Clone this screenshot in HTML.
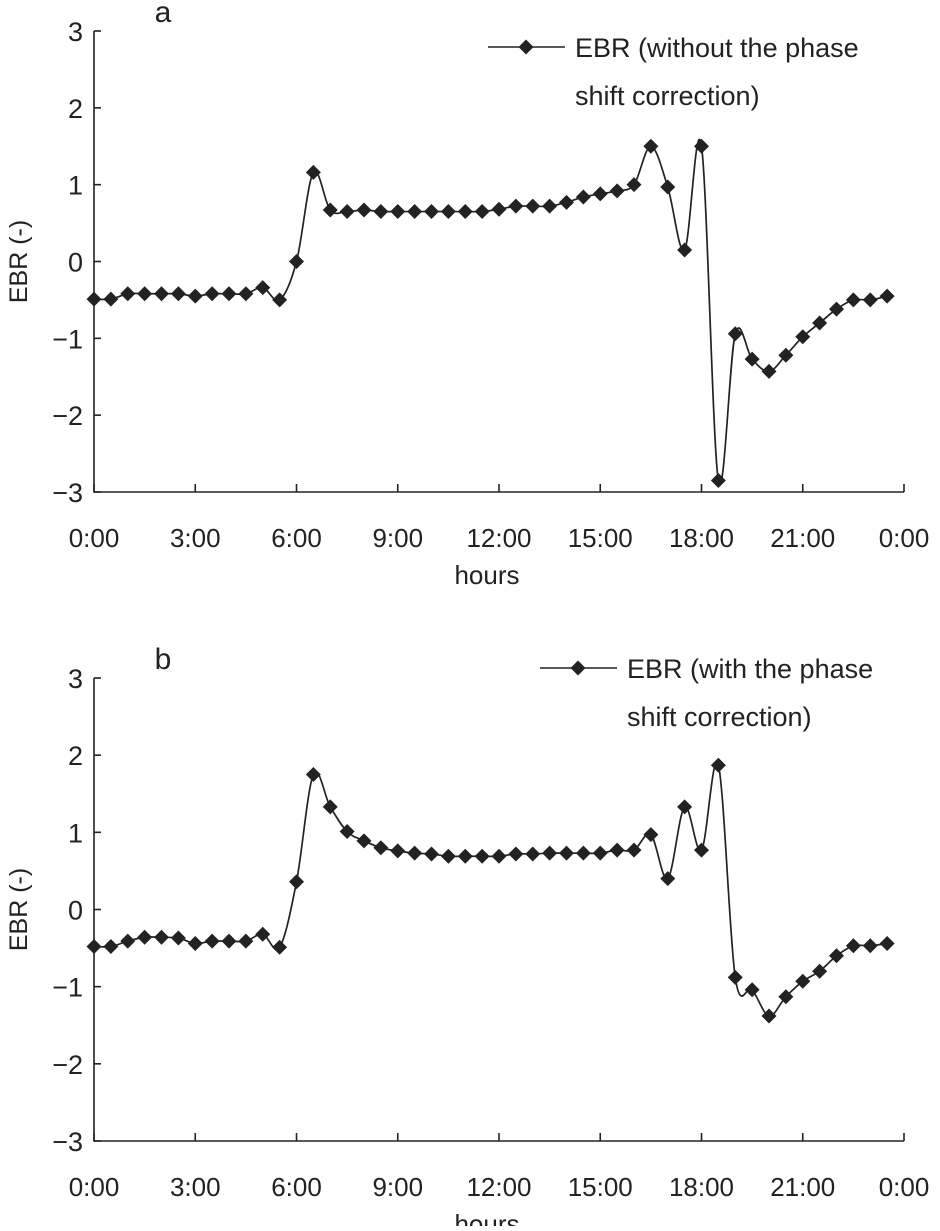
<!DOCTYPE html>
<html><head><meta charset="utf-8"><style>
body{margin:0;background:#fff;}
svg text{font-family:"Liberation Sans",sans-serif;fill:#222;}
</style></head><body>
<svg id="c" width="940" height="1226"></svg>
<script>
const hours = Array.from({length:48},(_,i)=>i*0.5);
const seriesA = [-0.49,-0.49,-0.42,-0.42,-0.42,-0.42,-0.45,-0.42,-0.42,-0.42,-0.34,-0.5,0,1.16,0.67,0.65,0.67,0.65,0.65,0.65,0.65,0.65,0.65,0.65,0.68,0.72,0.72,0.72,0.77,0.84,0.88,0.92,1.0,1.5,0.97,0.15,1.5,-2.85,-0.94,-1.27,-1.43,-1.22,-0.98,-0.8,-0.62,-0.5,-0.5,-0.45];
const seriesB = [-0.48,-0.48,-0.41,-0.36,-0.36,-0.37,-0.44,-0.41,-0.41,-0.41,-0.32,-0.49,0.36,1.75,1.33,1.01,0.89,0.8,0.76,0.73,0.72,0.69,0.69,0.69,0.69,0.72,0.72,0.73,0.73,0.73,0.73,0.77,0.77,0.97,0.4,1.33,0.77,1.87,-0.88,-1.04,-1.38,-1.13,-0.93,-0.8,-0.6,-0.47,-0.47,-0.44];
const yTicks = [3,2,1,0,-1,-2,-3];
const xTickLabels = ["0:00","3:00","6:00","9:00","12:00","15:00","18:00","21:00","0:00"];
const NS="http://www.w3.org/2000/svg";
const svg=document.getElementById('c');
function mk(tag,attrs,parent){const e=document.createElementNS(NS,tag);for(const k in attrs)e.setAttribute(k,attrs[k]);(parent||svg).appendChild(e);return e;}
function draw(cfg){
  const g=mk('g',{});
  
  
  const x0=94,x1=904,top=cfg.top,bot=cfg.bot;
  const xs=h=>x0+(x1-x0)*h/24;
  const ys=v=>top+(bot-top)*(3-v)/6;
  const ax=mk('path',{d:`M${x0},${top}V${bot}H${x1}`,stroke:'#222','stroke-width':1.6,fill:'none'},g);
  
  
  yTicks.forEach(v=>{
    mk('line',{x1:x0,x2:x0+7,y1:ys(v),y2:ys(v),stroke:'#222','stroke-width':1.6},g);
    const t=mk('text',{x:83,y:ys(v)+10,'text-anchor':'end','font-size':27},g);
    t.textContent=v<0?'\u2212'+(-v):String(v);
    
    
  });
  xTickLabels.forEach((l,i)=>{
    const x=xs(i*3);
    mk('line',{x1:x,x2:x,y1:bot,y2:bot-8,stroke:'#222','stroke-width':1.6},g);
    const t=mk('text',{x:x,y:bot+55,'text-anchor':'middle','font-size':26},g);
    t.textContent=l;
    
    
  });
  const ht=mk('text',{x:487,y:bot+92,'text-anchor':'middle','font-size':26},g);
  ht.textContent='hours';
  
  
  const cy=(top+bot)/2;
  const yt=mk('text',{x:27,y:cy,'text-anchor':'middle','font-size':25,transform:`rotate(-90 27 ${cy})`},g);
  yt.textContent='EBR (-)';
  
  
  const lt=mk('text',{x:163,y:top-9,'text-anchor':'middle','font-size':30},g);
  lt.textContent=cfg.letter;
  
  
  const P=cfg.data.map((v,i)=>[xs(hours[i]),ys(v)]);
  let d=`M${P[0][0]},${P[0][1]}`;
  for(let i=0;i<P.length-1;i++){
    const p0=P[i-1]||P[i],p1=P[i],p2=P[i+1],p3=P[i+2]||p2,k=1/6;
    d+=`C${p1[0]+(p2[0]-p0[0])*k},${p1[1]+(p2[1]-p0[1])*k} ${p2[0]-(p3[0]-p1[0])*k},${p2[1]-(p3[1]-p1[1])*k} ${p2[0]},${p2[1]}`;
  }
  const ln=mk('path',{d:d,stroke:'#222','stroke-width':1.7,fill:'none'},g);
  
  
  const s=7.5;
  P.forEach(p=>{
    const m=mk('path',{d:`M${p[0]},${p[1]-s}L${p[0]+s},${p[1]}L${p[0]},${p[1]+s}L${p[0]-s},${p[1]}Z`,fill:'#222'},g);
    
    
  });
  const lg=mk('g',{},g);
  
  
  const lx=cfg.lx,ly=cfg.ly;
  mk('line',{x1:lx,x2:lx+77,y1:ly,y2:ly,stroke:'#222','stroke-width':1.6},lg);
  const mx=lx+38;
  mk('path',{d:`M${mx},${ly-s}L${mx+s},${ly}L${mx},${ly+s}L${mx-s},${ly}Z`,fill:'#222'},lg);
  const t1=mk('text',{x:lx+87,y:ly+10,'font-size':27},lg);t1.textContent=cfg.l1;
  const t2=mk('text',{x:lx+87,y:ly+58,'font-size':27},lg);t2.textContent=cfg.l2;
}
draw({letter:'a',top:31,bot:492,data:seriesA,lx:488,ly:47,l1:'EBR (without the phase',l2:'shift correction)'});
draw({letter:'b',top:678,bot:1141,data:seriesB,lx:540,ly:668,l1:'EBR (with the phase',l2:'shift correction)'});
</script>
</body></html>
